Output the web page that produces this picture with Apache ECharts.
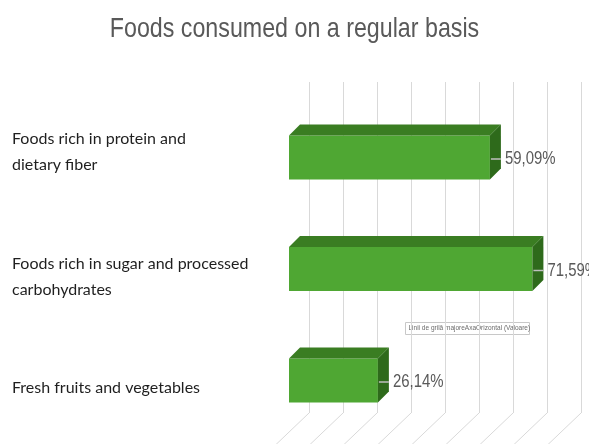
<!DOCTYPE html>
<html>
<head>
<meta charset="utf-8">
<script src="https://cdn.jsdelivr.net/npm/echarts@6/dist/echarts.min.js"></script>
<style>
  html, body { margin: 0; padding: 0; background: #ffffff; }
  #chart { width: 589px; height: 444px; }
</style>
</head>
<body>
<div id="chart"></div>
<script>
// Survey answers: share of respondents eating each food group regularly
const categories = [
  'Foods rich in protein and\ndietary fiber',
  'Foods rich in sugar and processed\ncarbohydrates',
  'Fresh fruits and vegetables'
];
const shares = [59.09, 71.59, 26.14];
const gridTicks = [0, 10, 20, 30, 40, 50, 60, 70, 80];
const chartTitle = 'Foods consumed on a regular basis';
const hoverNote = 'Linii de grilă majoreAxaOrizontal (Valoare)';

// 3-D look of the bars (oblique projection)
const DEPTH = 11;
const FRONT = '#4fa733';
const TOP = '#3a7d22';
const SIDE = '#2e6a1b';
const SANS = '"Liberation Sans", Arial, sans-serif';
const LABEL_FONT = 'Lato, "Noto Sans", sans-serif';
const LABEL_COLOR = '#1f1f1f';
const NARROW_X = 0.83; // horizontal squeeze giving a narrow face

function pct(v) {
  return v.toFixed(2).replace('.', ',') + '%';
}

function renderBar(params, api) {
  const idx = api.value(0);
  const v = api.value(1);
  const start = api.coord([0, idx]);
  const end = api.coord([v, idx]);
  const band = api.size([0, 1])[1];
  const h = band * 0.395;
  const x0 = start[0], x1 = end[0], yc = end[1];
  const yt = yc - h / 2, yb = yc + h / 2;
  return {
    type: 'group',
    children: [
      { type: 'rect', shape: { x: x0, y: yt, width: x1 - x0, height: h }, style: { fill: FRONT } },
      { type: 'polygon', shape: { points: [[x0, yt], [x0 + DEPTH, yt - DEPTH], [x1 + DEPTH, yt - DEPTH], [x1, yt]] }, style: { fill: TOP } },
      { type: 'polygon', shape: { points: [[x1, yt], [x1 + DEPTH, yt - DEPTH], [x1 + DEPTH, yb - DEPTH], [x1, yb]] }, style: { fill: SIDE } },
      { type: 'line', shape: { x1: x1 + 1, y1: yc + 1.5, x2: x1 + DEPTH, y2: yc + 1.5 }, style: { stroke: '#bfbfbf', lineWidth: 1.5 } },
      {
        type: 'text', x: x1 + DEPTH + 4, y: yc + 2, scaleX: NARROW_X,
        style: { text: pct(v), fill: '#595959', font: '18px ' + SANS, align: 'left', verticalAlign: 'middle' }
      }
    ]
  };
}

function renderFloorLine(params, api) {
  const p = api.coord([api.value(0), 0]);
  return {
    type: 'line',
    shape: { x1: p[0], y1: p[1], x2: p[0] - 44, y2: p[1] + 42 },
    style: { stroke: '#d9d9d9', lineWidth: 1 }
  };
}

// category label lines, each line in its own rich style
function categoryLabel(value, index) {
  const lines = value.split('\n');
  if (index === 0) return '{a0|' + lines[0] + '}\n{b0|' + lines[1] + '}';
  if (index === 1) return '{a1|' + lines[0] + '}\n{b1|' + lines[1] + '}';
  return '{e2|}\n{a2|' + lines[0] + '}';
}

function labelLine(lh) {
  return { fontFamily: LABEL_FONT, fontSize: 16, color: LABEL_COLOR, lineHeight: lh };
}

const chart = echarts.init(document.getElementById('chart'), null, { renderer: 'canvas' });

chart.setOption({
  animation: false,
  backgroundColor: '#ffffff',
  grid: [
    { left: 289, top: 101.75, width: 272, height: 334.5 },
    { left: 309, top: 82, width: 272, height: 331 }
  ],
  xAxis: [
    { gridIndex: 0, type: 'value', min: 0, max: 80, show: false },
    {
      gridIndex: 1, type: 'value', min: 0, max: 80, interval: 10,
      axisLine: { show: false }, axisTick: { show: false }, axisLabel: { show: false },
      splitLine: { show: true, lineStyle: { color: '#d9d9d9', width: 1 } }
    }
  ],
  yAxis: [
    {
      gridIndex: 0, type: 'category', data: categories, inverse: true,
      axisLine: { show: false }, axisTick: { show: false }, splitLine: { show: false },
      axisLabel: {
        align: 'left', margin: 277, fontFamily: LABEL_FONT,
        fontSize: 16, color: LABEL_COLOR,
        formatter: categoryLabel,
        rich: {
          a0: labelLine(15.5),
          b0: labelLine(37.5),
          a1: labelLine(41),
          b1: labelLine(10),
          e2: { fontSize: 16, lineHeight: 14 },
          a2: labelLine(25.5)
        }
      }
    },
    { gridIndex: 1, type: 'value', min: 0, max: 1, show: false }
  ],
  series: [
    {
      type: 'custom', xAxisIndex: 1, yAxisIndex: 1, clip: false, z: 1,
      data: gridTicks.map(t => [t]),
      encode: { x: 0 },
      renderItem: renderFloorLine
    },
    {
      type: 'custom', xAxisIndex: 0, yAxisIndex: 0, clip: false, z: 5,
      data: shares.map((v, i) => [i, v]),
      encode: { y: 0, x: 1 },
      renderItem: renderBar
    }
  ],
  graphic: [
    {
      type: 'text', x: 294.5, y: 29, scaleX: NARROW_X, z: 10,
      style: { text: chartTitle, font: '28px ' + SANS, fill: '#595959', align: 'center', verticalAlign: 'middle' }
    },
    {
      type: 'group', left: 405, top: 322, z: 10,
      children: [
        { type: 'rect', shape: { x: 0, y: 0, width: 124, height: 12 }, style: { fill: '#ffffff', stroke: '#c8c8c8', lineWidth: 1 } },
        { type: 'text', x: 3, y: 6, style: { text: hoverNote, font: '6.5px ' + SANS, fill: '#6b6b6b', verticalAlign: 'middle' } }
      ]
    }
  ]
});
</script>
</body>
</html>
